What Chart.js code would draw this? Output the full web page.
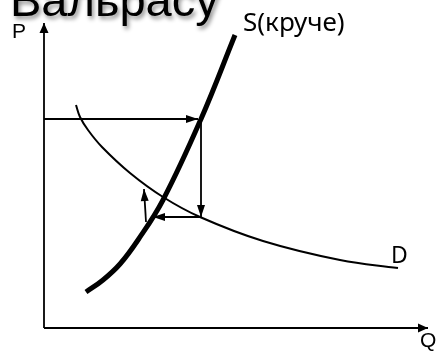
<!DOCTYPE html>
<html>
<head>
<meta charset="utf-8">
<script src="https://cdn.jsdelivr.net/npm/chart.js@4/dist/chart.umd.min.js"></script>
<style>
html,body{margin:0;padding:0;background:#fff;overflow:hidden;}
#wrap{width:440px;height:351px;position:relative;}
</style>
</head>
<body>
<div id="wrap"><canvas id="c" width="440" height="351"></canvas></div>
<script>
// ---- data (Q = quantity, P = price, arbitrary units) ----
const supplyQ = [42, 59, 76, 94, 119, 157, 191];
const supplyP = [36, 48, 64, 88, 128, 209, 293];
const demandQ = [32, 36, 44, 58, 86, 119, 156, 219, 296, 354];
const demandP = [223, 211, 198, 181, 155, 131, 111, 87, 68, 60];
const axisQ = [0, 384];
const axisP = [0, 305];
// adjustment arrows (start -> tip)
const arrow1Q = [0, 154],   arrow1P = [209, 209];
const arrow2Q = [157, 157], arrow2P = [209, 111];
const arrow3Q = [157, 109], arrow3P = [111, 111];
const arrow4Q = [102, 100], arrow4P = [106, 139];
const titleText = 'Вальрасу';
const labelTexts = ['P', 'Q', 'S(круче)', 'D'];

const pts = (qs, ps) => qs.map((q, i) => ({x: q, y: ps[i]}));

function lineDs(data, width, arrow, extra) {
  return Object.assign({
    data: data, borderColor: '#000', backgroundColor: '#000',
    borderWidth: width, pointRadius: 0, showLine: true, fill: false,
    tension: 0, arrow: arrow, borderCapStyle: 'butt'
  }, extra || {});
}

const arrowPlugin = {
  id: 'arrowHeads',
  afterDatasetsDraw(chart) {
    const ctx = chart.ctx;
    chart.data.datasets.forEach((ds, i) => {
      if (!ds.arrow) return;
      const meta = chart.getDatasetMeta(i);
      const n = meta.data.length;
      const a = meta.data[n - 2], b = meta.data[n - 1];
      const ang = Math.atan2(b.y - a.y, b.x - a.x);
      const len = ds.arrow.len, hw = ds.arrow.hw;
      ctx.save();
      ctx.translate(b.x, b.y);
      ctx.rotate(ang);
      ctx.beginPath();
      ctx.moveTo(0, 0);
      ctx.lineTo(-len, -hw);
      ctx.lineTo(-len, hw);
      ctx.closePath();
      ctx.fillStyle = '#000';
      ctx.fill();
      ctx.restore();
    });
  }
};

const labelPlugin = {
  id: 'labels',
  afterDraw(chart) {
    const ctx = chart.ctx;
    const xs = chart.scales.x, ys = chart.scales.y;
    ctx.save();
    ctx.fillStyle = '#000';
    ctx.textBaseline = 'alphabetic';
    ctx.textAlign = 'left';
    // axis labels
    ctx.font = '21px "Liberation Sans", Arial, sans-serif';
    ctx.fillText(labelTexts[0], xs.getPixelForValue(-32), ys.getPixelForValue(290));
    ctx.fillText(labelTexts[1], xs.getPixelForValue(376), ys.getPixelForValue(-19));
    // curve labels
    ctx.font = '26px "Noto Sans", sans-serif';
    ctx.fillText(labelTexts[2], xs.getPixelForValue(199), ys.getPixelForValue(297));
    ctx.font = '23px "Noto Sans", sans-serif';
    ctx.fillText(labelTexts[3], xs.getPixelForValue(347), ys.getPixelForValue(65));
    // title with shadow
    ctx.font = '47px "Liberation Sans", Arial, sans-serif';
    ctx.shadowColor = 'rgba(0,0,0,0.45)';
    ctx.shadowBlur = 4;
    ctx.shadowOffsetX = 2;
    ctx.shadowOffsetY = 3;
    ctx.fillText(titleText, 10, 16);
    ctx.restore();
  }
};

new Chart(document.getElementById('c'), {
  type: 'scatter',
  data: {
    datasets: [
      lineDs(pts([0, 0], axisP), 1.8, {len: 10, hw: 4.5}),
      lineDs(pts(axisQ, [0, 0]), 1.8, {len: 10, hw: 4.5}),
      lineDs(pts(demandQ, demandP), 2, false, {tension: 0.4}),
      lineDs(pts(supplyQ, supplyP), 5, false, {tension: 0.4}),
      lineDs(pts(arrow1Q, arrow1P), 1.8, {len: 12, hw: 4}),
      lineDs(pts(arrow2Q, arrow2P), 1.8, {len: 12, hw: 4}),
      lineDs(pts(arrow3Q, arrow3P), 1.8, {len: 12, hw: 4}),
      lineDs(pts(arrow4Q, arrow4P), 1.8, {len: 12, hw: 4})
    ]
  },
  options: {
    responsive: false,
    animation: false,
    devicePixelRatio: 1,
    layout: {padding: 0},
    plugins: {legend: {display: false}, tooltip: {enabled: false}, title: {display: false}},
    scales: {
      x: {type: 'linear', min: -44, max: 396, display: false},
      y: {type: 'linear', min: -23, max: 328, display: false}
    }
  },
  plugins: [arrowPlugin, labelPlugin]
});
</script>
</body>
</html>
